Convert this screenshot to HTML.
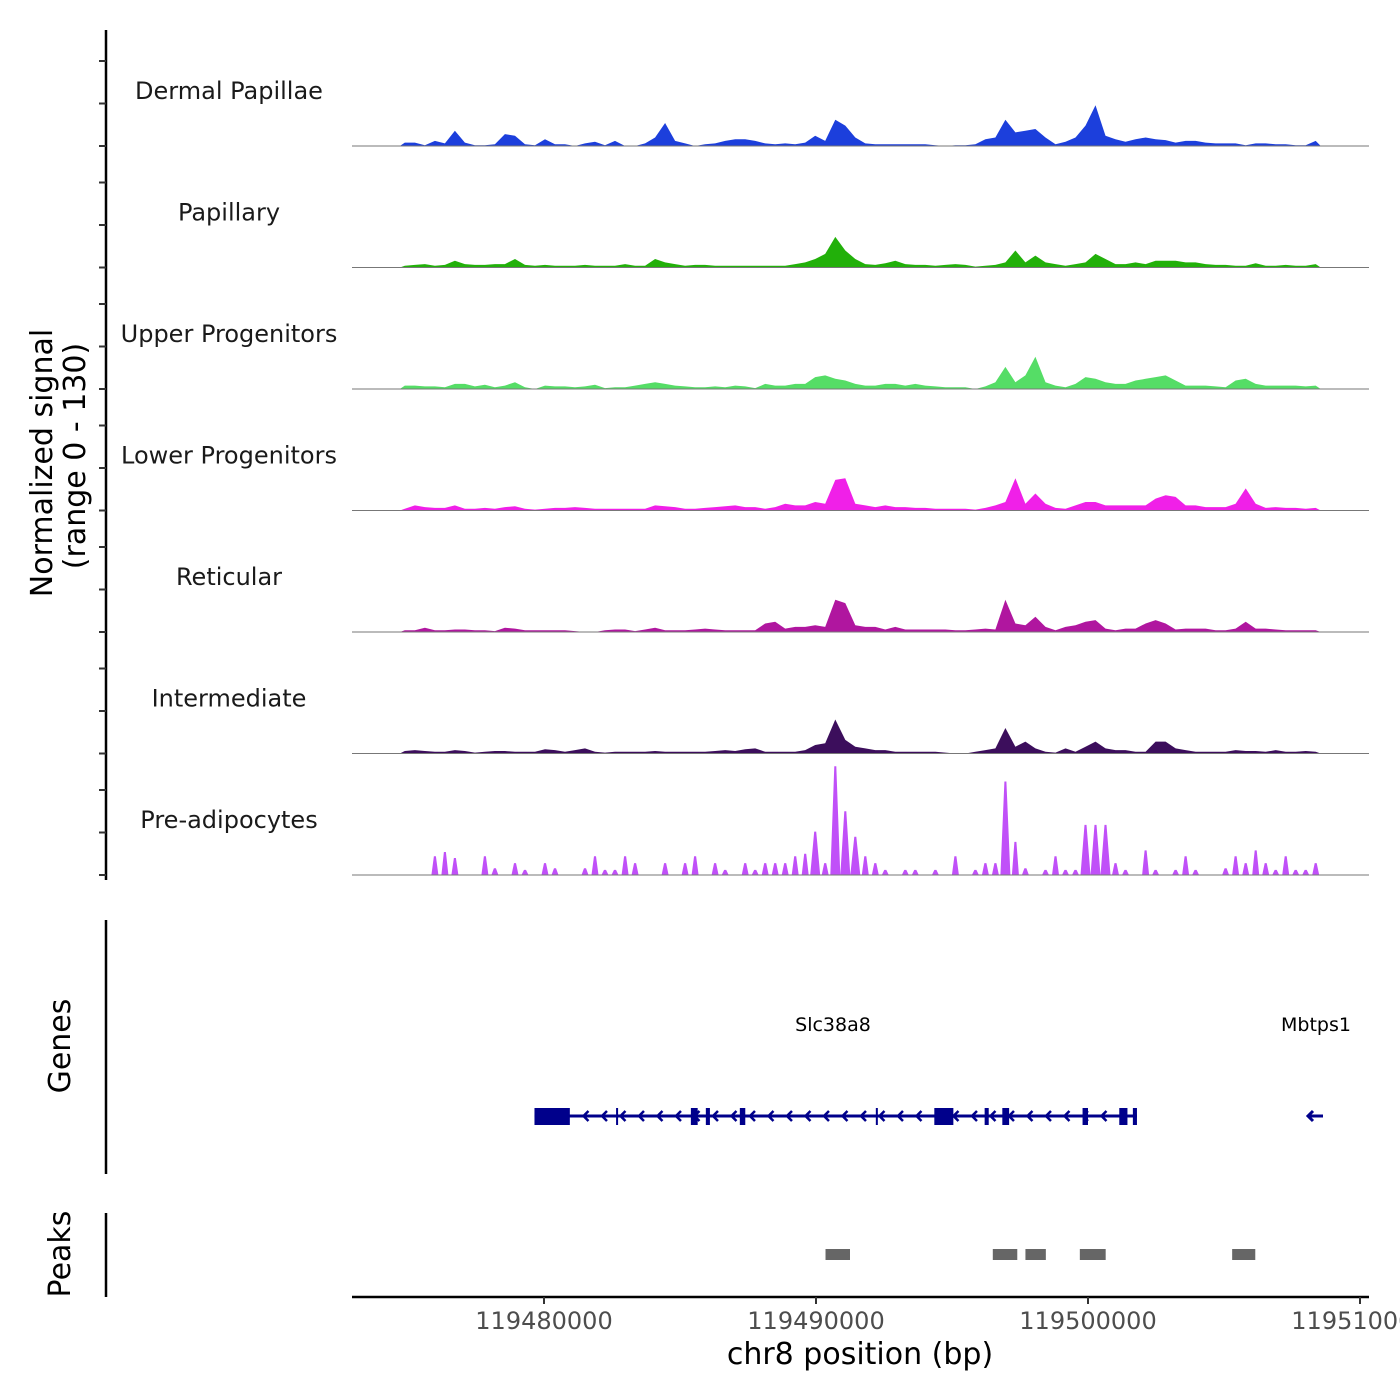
<!DOCTYPE html>
<html><head><meta charset="utf-8"><style>
body{margin:0;background:#fff;}
svg{display:block;font-family:"DejaVu Sans","Liberation Sans",sans-serif;}
</style></head><body>
<svg id="chart" width="1400" height="1400" viewBox="0 0 1400 1400" xmlns="http://www.w3.org/2000/svg">
<g id="tracks"></g>
<g id="yaxis"></g>
<text transform="translate(52,463) rotate(-90)" text-anchor="middle" font-size="30" fill="#000">Normalized signal</text>
<text transform="translate(85,456) rotate(-90)" text-anchor="middle" font-size="30" fill="#000">(range 0 - 130)</text>
<line x1="106" y1="920" x2="106" y2="1174" stroke="#000" stroke-width="2.5"/>
<text transform="translate(70,1046) rotate(-90)" text-anchor="middle" font-size="30">Genes</text>
<line x1="106" y1="1213" x2="106" y2="1297" stroke="#000" stroke-width="2.5"/>
<text transform="translate(70,1254) rotate(-90)" text-anchor="middle" font-size="30">Peaks</text>
<g id="genes"></g>
<g id="peaks"></g>
<g id="xaxis"></g>
<text x="860" y="1364" text-anchor="middle" font-size="30" fill="#000">chr8 position (bp)</text>
</svg>
<script>
const NS="http://www.w3.org/2000/svg";
const trackNames=["Dermal Papillae","Papillary","Upper Progenitors","Lower Progenitors","Reticular","Intermediate","Pre-adipocytes"];
const trackColors=["#1c3fdc","#22b00a","#55dd66","#f020e8","#b0169f","#3c0e5c","#c050f8"];
const binStart=119474700;
const binSize=368;
const dermal=[4,4,1,6,3,18,4,1,1,2,14,12,2,1,8,2,2,0,3,5,1,6,0,0,3,10,27,6,3,0,2,3,6,8,8,6,3,2,3,2,4,12,6,31,24,10,3,2,2,2,2,2,2,1,0,1,1,2,8,10,31,16,18,20,10,2,5,10,24,48,12,8,5,8,10,8,7,4,6,6,4,3,3,3,1,3,3,2,2,1,1,6];
const papillary=[2,3,4,2,3,8,4,3,3,4,4,10,3,2,3,2,2,2,3,2,2,2,4,2,2,10,6,4,2,3,3,2,2,2,2,2,2,2,2,4,6,10,16,36,20,10,4,3,5,8,4,3,3,2,3,4,3,1,2,3,6,20,6,14,6,4,2,4,6,16,10,4,4,6,4,8,8,8,6,6,4,3,3,2,2,5,2,2,3,2,2,4];
const upper=[4,4,3,3,2,6,6,3,5,2,4,8,2,0,4,3,3,2,3,5,1,2,2,4,6,8,6,4,3,2,2,3,2,4,3,1,6,4,4,6,6,14,16,12,10,6,4,4,6,6,4,6,4,3,2,2,2,0,3,8,26,8,16,38,8,4,2,6,14,12,8,6,6,10,12,14,16,10,4,4,4,3,2,10,12,6,4,4,4,4,3,4];
const lower=[2,6,4,3,3,6,2,2,3,2,4,5,2,1,2,3,3,4,3,2,2,2,2,2,2,6,5,4,2,2,3,4,5,6,4,4,2,4,8,6,6,10,8,36,38,8,6,4,6,4,4,3,3,2,2,2,2,1,3,6,10,38,8,20,8,3,2,6,10,10,6,6,6,6,6,14,18,16,6,6,4,4,4,8,26,8,3,4,3,3,2,3];
const reticular=[2,2,5,2,2,3,3,2,2,1,5,4,2,2,2,2,2,1,0,0,2,3,3,1,3,5,2,2,2,3,4,3,2,2,2,2,10,12,4,6,6,8,6,38,34,8,6,6,3,6,3,3,3,3,3,2,2,3,4,3,38,10,8,18,6,2,6,8,12,14,4,2,4,4,10,14,10,3,4,4,4,2,2,4,12,4,4,3,2,2,2,2];
const intermediate=[3,4,3,2,2,4,3,1,2,3,3,2,2,2,5,4,2,4,6,2,1,2,2,2,2,3,2,2,2,2,2,3,4,3,5,6,2,2,2,2,4,10,12,40,16,8,6,4,4,2,2,2,2,2,1,0,0,2,4,6,30,8,14,6,2,1,6,2,8,14,6,4,4,2,2,14,14,6,4,2,2,2,2,4,3,3,2,4,2,2,3,2];
const preadipo=[0,0,0,22,27,20,0,0,22,8,0,14,6,0,14,8,0,0,8,22,6,6,22,14,0,0,14,0,14,22,0,14,6,0,14,6,14,14,14,22,25,51,14,128,75,45,22,14,6,0,6,6,0,6,0,22,0,6,14,14,110,39,8,0,6,22,6,6,59,59,59,14,6,0,29,6,0,6,22,6,0,0,8,22,14,29,14,6,22,6,6,14];
const trackData=[dermal,papillary,upper,lower,reticular,intermediate,preadipo];
const yTicks=[0,50,100];
const xTickValues=[119480000,119490000,119500000,119510000];
const xTickLabels=["119480000","119490000","119500000","119510000"];
const exonStarts=[119479650,119482650,119485400,119485950,119487200,119492200,119494350,119496200,119496850,119499800,119501150,119501650];
const exonEnds=[119480950,119482720,119485650,119486100,119487400,119492260,119495050,119496350,119497100,119500000,119501450,119501800];
const peakStarts=[119490350,119496500,119497700,119499700,119505300];
const peakEnds=[119491250,119497400,119498450,119500650,119506150];
const geneStart=119479650, geneEnd=119501800;

const X=p=>544+(p-119480000)*272/10000;
const trackBase=i=>146+i*121.5;
const Y=(i,v)=>trackBase(i)-v*0.85;
function el(tag,attrs,parent){const e=document.createElementNS(NS,tag);for(const k in attrs)e.setAttribute(k,attrs[k]);parent.appendChild(e);return e;}

const tracks=document.getElementById('tracks');
const yaxis=document.getElementById('yaxis');
const ax=el('line',{x1:106,y1:30,x2:106,y2:880,stroke:'#000','stroke-width':2.5},yaxis);


trackData.forEach((data,i)=>{
  const b=trackBase(i);
  let d;
  if(i===6){
    d='';
    data.forEach((v,j)=>{
      if(v<=0)return;
      const cx=X(binStart+binSize*(j+0.5));
      const w=v>40?5:3.5;
      d+=`M${(cx-w).toFixed(1)},${b} L${(cx-1).toFixed(1)},${Y(i,v).toFixed(1)} L${(cx+1).toFixed(1)},${Y(i,v).toFixed(1)} L${(cx+w).toFixed(1)},${b} Z `;
    });
  } else {
    d=`M${X(binStart)},${b}`;
    data.forEach((v,j)=>{d+=` L${X(binStart+binSize*(j+0.5)).toFixed(1)},${Y(i,v).toFixed(1)}`;});
    d+=` L${X(binStart+binSize*data.length)},${b} Z`;
  }
  const p=el('path',{d:d,fill:trackColors[i]},tracks);
  
  
  const bl=el('line',{x1:352,x2:1369,y1:b,y2:b,stroke:'#777','stroke-width':1},tracks);
  
  
  const t=el('text',{x:229,y:b-47,'text-anchor':'middle','font-size':24,fill:'#1a1a1a'},tracks);
  t.textContent=trackNames[i];
  
  
  yTicks.forEach(v=>{
    const tk=el('line',{x1:99,x2:106,y1:Y(i,v),y2:Y(i,v),stroke:'#333','stroke-width':2},yaxis);
    
    
  });
});

const genes=document.getElementById('genes');
const gl=el('line',{x1:X(geneStart),x2:X(geneEnd),y1:1116,y2:1116,stroke:'#00008b','stroke-width':3},genes);


for(let x=X(geneStart)+50;x<X(geneEnd)-8;x+=18.5){
  const c=el('path',{d:`M${x+4},${1111} L${x-1},1116 L${x+4},1121`,fill:'none',stroke:'#00008b','stroke-width':2.5},genes);
  
  
}
exonStarts.forEach((s,k)=>{
  const w=Math.max(2,X(exonEnds[k])-X(s));
  const r=el('rect',{x:X(s),y:1108,width:w,height:17,fill:'#00008b'},genes);
  
  
});
const g1=el('text',{x:833,y:1031,'text-anchor':'middle','font-size':19,fill:'#000'},genes);
g1.textContent='Slc38a8';


const g2=el('text',{x:1316,y:1031,'text-anchor':'middle','font-size':19,fill:'#000'},genes);
g2.textContent='Mbtps1';


const mb=el('path',{d:'M1308,1116 L1323,1116 M1313,1111 L1308,1116 L1313,1121',fill:'none',stroke:'#00008b','stroke-width':3},genes);



const peaks=document.getElementById('peaks');
peakStarts.forEach((s,k)=>{
  const r=el('rect',{x:X(s),y:1249,width:X(peakEnds[k])-X(s),height:11,fill:'#666'},peaks);
  
  
});

const xaxis=document.getElementById('xaxis');
const xl=el('line',{x1:352,x2:1369,y1:1297,y2:1297,stroke:'#000','stroke-width':2.5},xaxis);


xTickValues.forEach((v,k)=>{
  const tk=el('line',{x1:X(v),x2:X(v),y1:1297,y2:1304,stroke:'#333','stroke-width':2},xaxis);
  
  
  const t=el('text',{x:X(v),y:1329,'text-anchor':'middle','font-size':24,fill:'#4d4d4d'},xaxis);
  t.textContent=xTickLabels[k];
  
  
});
</script>
</body></html>
